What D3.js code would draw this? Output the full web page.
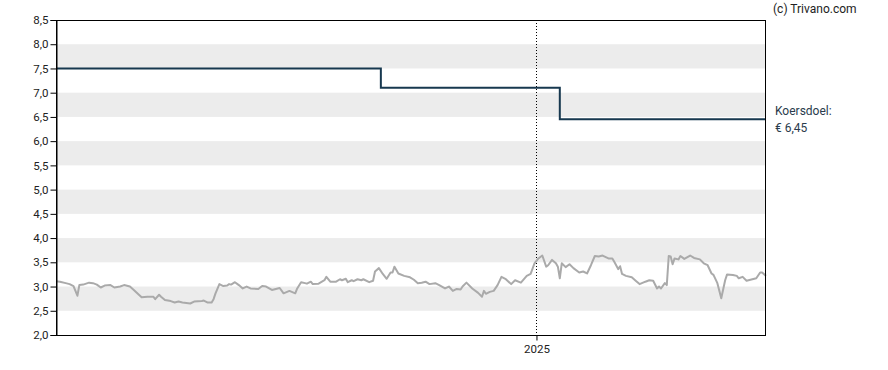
<!DOCTYPE html>
<html><head><meta charset="utf-8">
<script src="https://cdn.jsdelivr.net/npm/d3@7"></script>
<style>body{margin:0;background:#fff;}svg{display:block;font-family:Roboto,"Liberation Sans",Arial,sans-serif;}</style>
</head><body><svg id="c" width="888" height="370"></svg>
<script>
const domainDates = ["2024-04-29", "2025-04-29"];
const yTicks = [2.0,2.5,3.0,3.5,4.0,4.5,5.0,5.5,6.0,6.5,7.0,7.5,8.0,8.5];
const bandStarts = [2.5,3.5,4.5,5.5,6.5,7.5];
const xTickDates = ["2025-01-01"];
const xTickLabels = ["2025"];
const targetDates = ["2024-04-29","2024-10-13","2025-01-13","2025-04-29"];
const targetValues = [7.5, 7.1, 6.45, 6.45];
const priceDates = ["2024-04-29","2024-05-01","2024-05-04","2024-05-06","2024-05-08","2024-05-10","2024-05-11","2024-05-13","2024-05-16","2024-05-18","2024-05-20","2024-05-22","2024-05-24","2024-05-27","2024-05-29","2024-06-01","2024-06-03","2024-06-06","2024-06-08","2024-06-12","2024-06-15","2024-06-18","2024-06-19","2024-06-21","2024-06-22","2024-06-24","2024-06-27","2024-06-29",
"2024-07-01","2024-07-03","2024-07-07","2024-07-09","2024-07-13","2024-07-14","2024-07-16","2024-07-18","2024-07-19","2024-07-20","2024-07-22","2024-07-24","2024-07-26","2024-07-27","2024-07-28","2024-07-30","2024-08-01","2024-08-03","2024-08-05","2024-08-07","2024-08-11","2024-08-13","2024-08-15","2024-08-18","2024-08-19","2024-08-22","2024-08-24","2024-08-27","2024-08-30",
"2024-08-31","2024-09-02","2024-09-04","2024-09-05","2024-09-07","2024-09-08","2024-09-11","2024-09-14","2024-09-15","2024-09-17","2024-09-20","2024-09-22","2024-09-23","2024-09-25","2024-09-26","2024-09-28","2024-09-29","2024-10-01","2024-10-03","2024-10-04","2024-10-07","2024-10-09","2024-10-10","2024-10-12","2024-10-14","2024-10-16","2024-10-18","2024-10-19","2024-10-20","2024-10-22","2024-10-25","2024-10-28","2024-10-30",
"2024-11-01","2024-11-03","2024-11-05","2024-11-07","2024-11-10","2024-11-12","2024-11-15","2024-11-17","2024-11-19","2024-11-21","2024-11-23","2024-11-24","2024-11-26","2024-11-29","2024-12-02","2024-12-04","2024-12-05","2024-12-06","2024-12-08","2024-12-10","2024-12-12","2024-12-14","2024-12-16","2024-12-19","2024-12-21","2024-12-24","2024-12-27","2024-12-29","2024-12-31",
"2025-01-02","2025-01-04","2025-01-06","2025-01-07","2025-01-09","2025-01-11","2025-01-12","2025-01-13","2025-01-14","2025-01-16","2025-01-18","2025-01-20","2025-01-23","2025-01-25","2025-01-27","2025-01-29","2025-01-31","2025-02-02","2025-02-04","2025-02-07","2025-02-09","2025-02-10","2025-02-12","2025-02-13","2025-02-14","2025-02-16","2025-02-19","2025-02-21","2025-02-23","2025-02-26","2025-02-28",
"2025-03-02","2025-03-04","2025-03-05","2025-03-06","2025-03-08","2025-03-09","2025-03-10","2025-03-11","2025-03-12","2025-03-13","2025-03-15","2025-03-16","2025-03-18","2025-03-21","2025-03-23","2025-03-26","2025-03-28","2025-03-30","2025-04-01","2025-04-02","2025-04-04","2025-04-06","2025-04-08","2025-04-09","2025-04-12","2025-04-14","2025-04-15","2025-04-17","2025-04-19","2025-04-22","2025-04-24","2025-04-26","2025-04-27","2025-04-29"];
const priceValues = [3.11,3.10,3.07,3.05,3.01,2.81,3.03,3.04,3.08,3.07,3.04,2.98,3.02,3.03,2.98,3.00,3.03,3.00,2.93,2.78,2.79,2.79,2.74,2.83,2.79,2.72,2.70,2.67,
2.69,2.67,2.65,2.69,2.70,2.71,2.67,2.67,2.74,2.86,3.05,3.01,3.02,3.05,3.04,3.09,3.03,2.96,3.00,2.96,2.95,3.01,3.00,2.93,2.94,2.97,2.86,2.91,2.86,
2.96,3.09,3.07,3.06,3.10,3.05,3.06,3.13,3.20,3.10,3.10,3.15,3.13,3.16,3.09,3.13,3.11,3.15,3.13,3.15,3.09,3.12,3.31,3.38,3.26,3.16,3.29,3.29,3.41,3.27,3.22,3.19,3.14,
3.07,3.08,3.10,3.05,3.07,3.03,2.96,3.00,2.91,2.95,2.94,3.00,3.08,2.96,2.87,2.79,2.91,2.85,2.89,2.91,3.03,3.20,3.16,3.05,3.13,3.08,3.22,3.26,3.48,
3.58,3.64,3.41,3.44,3.55,3.48,3.41,3.17,3.48,3.40,3.46,3.38,3.29,3.31,3.27,3.44,3.63,3.62,3.64,3.58,3.58,3.51,3.36,3.42,3.26,3.22,3.19,3.12,3.05,3.10,3.13,
3.12,2.96,3.00,2.96,3.07,3.03,3.63,3.62,3.46,3.58,3.56,3.63,3.57,3.64,3.59,3.56,3.48,3.44,3.27,3.24,3.07,2.76,3.13,3.25,3.24,3.22,3.17,3.20,3.12,3.15,3.17,3.29,3.29,3.22];

const parse = d3.utcParse("%Y-%m-%d");
const svg = d3.select("#c");
const L = 56, R = 766, T = 20, B = 335;
const x = d3.scaleUtc().domain(domainDates.map(parse)).range([L, R]);
const y = d3.scaleLinear().domain([2, 8.5]).range([B, T]);

// bands
svg.append("g").selectAll("rect").data(bandStarts).join("rect")
  .attr("x", L).attr("width", R - L)
  .attr("y", d => y(d + 0.5)).attr("height", d => y(d) - y(d + 0.5))
  .attr("fill", "#ececec");

// dotted year line
svg.append("g").selectAll("line").data(xTickDates).join("line")
  .attr("x1", d => Math.round(x(parse(d))) + 0.5).attr("x2", d => Math.round(x(parse(d))) + 0.5)
  .attr("y1", T).attr("y2", B)
  .attr("stroke", "#000").attr("stroke-width", 1).attr("stroke-dasharray", "1,2");

// price line
const price = priceDates.map((d, i) => ({d: parse(d), v: priceValues[i]}));
svg.append("path").datum(price)
  .attr("fill", "none").attr("stroke", "#aaaaaa").attr("stroke-width", 2).attr("stroke-linejoin", "round")
  .attr("d", d3.line().x(p => x(p.d)).y(p => y(p.v)));

// target line (step)
const target = targetDates.map((d, i) => ({d: parse(d), v: targetValues[i]}));
svg.append("path").datum(target)
  .attr("fill", "none").attr("stroke", "#17384f").attr("stroke-width", 2)
  .attr("d", d3.line().curve(d3.curveStepAfter).x(p => x(p.d)).y(p => y(p.v)));

// frame
svg.append("rect").attr("x", L + 0.5).attr("y", T + 0.5).attr("width", R - L - 1).attr("height", B - T)
  .attr("fill", "none").attr("stroke", "#000").attr("stroke-width", 1);

// y axis
const yAxis = svg.append("g").attr("transform", `translate(${L + 0.5},0)`)
  .call(d3.axisLeft(y).tickValues(yTicks).tickSize(6).tickPadding(2)
    .tickFormat(d => d3.format(".1f")(d).replace(".", ",")));
yAxis.select(".domain").attr("stroke", "#000");
yAxis.selectAll("text").attr("font-size", 11.5).attr("fill", "#222").attr("font-family", "Roboto, sans-serif");

// x axis
const xAxis = svg.append("g").attr("transform", `translate(0,${B + 0.5})`)
  .call(d3.axisBottom(x).tickValues(xTickDates.map(parse)).tickSize(5).tickPadding(4)
    .tickFormat((d, i) => xTickLabels[i]));
xAxis.select(".domain").remove();
xAxis.selectAll("text").attr("font-size", 11.5).attr("fill", "#222").attr("font-family", "Roboto, sans-serif");

// labels
svg.append("text").attr("x", 773).attr("y", 13).attr("font-size", 12).attr("fill", "#222").text("(c) Trivano.com");
svg.append("text").attr("x", 775).attr("y", 115).attr("font-size", 12).attr("fill", "#2a3b4c").text("Koersdoel:");
svg.append("text").attr("x", 775).attr("y", 132).attr("font-size", 12).attr("fill", "#2a3b4c").text("€ 6,45");
</script></body></html>
